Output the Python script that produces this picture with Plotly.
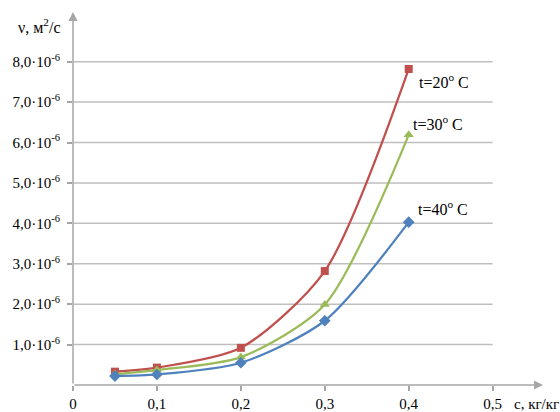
import plotly.graph_objects as go

# data (viscosity in units of 1e-6 m^2/s)
conc = [0.05, 0.1, 0.2, 0.3, 0.4]
t20 = [0.33, 0.43, 0.92, 2.82, 7.82]
t30 = [0.27, 0.37, 0.69, 1.99, 6.19]
t40 = [0.22, 0.26, 0.55, 1.59, 4.03]
series_names = ["t=20<sup>o</sup> C", "t=30<sup>o</sup> C", "t=40<sup>o</sup> C"]
x_ticks = [0, 0.1, 0.2, 0.3, 0.4, 0.5]
x_tick_text = ["0", "0,1", "0,2", "0,3", "0,4", "0,5"]
y_ticks = [1, 2, 3, 4, 5, 6, 7, 8]
y_tick_text = [f"{v},0·10<sup>-6</sup>" for v in y_ticks]

FONT = "Liberation Serif, Times New Roman, serif"
GRID = "#BFBFBF"
AX = "#A6A6A6"

fig = go.Figure()
styles = [
    (t20, "#C0504D", "square", 8),
    (t30, "#9BBB59", "triangle-up", 9),
    (t40, "#4F81BD", "diamond", 9),
]
for (vals, col, sym, ms), name in zip(styles, series_names):
    fig.add_trace(go.Scatter(
        x=conc, y=vals, mode="lines+markers", name=name,
        line=dict(color=col, width=2.25, shape="spline", smoothing=0.75),
        marker=dict(symbol=sym, size=ms, color=col),
        cliponaxis=False, showlegend=False,
    ))

# gridlines only up to x=0.5
for v in y_ticks:
    fig.add_shape(type="line", x0=0, x1=0.5, y0=v, y1=v, xref="x", yref="y",
                  line=dict(color=GRID, width=1.5), layer="below")

# axes with arrows
fig.add_annotation(x=0, y=9.23, ax=0, ay=0, xref="x", yref="y", axref="x", ayref="y",
                   text="", showarrow=True, arrowhead=2, arrowsize=1.2, arrowwidth=1.5,
                   arrowcolor=AX)
fig.add_annotation(x=0.56, y=0, ax=0, ay=0, xref="x", yref="y", axref="x", ayref="y",
                   text="", showarrow=True, arrowhead=2, arrowsize=1.2, arrowwidth=1.5,
                   arrowcolor=AX)

# series labels
label_pos = [(0.410, 7.52), (0.403, 6.49), (0.409, 4.38)]
for (lx, ly), name in zip(label_pos, series_names):
    fig.add_annotation(x=lx, y=ly, xref="x", yref="y", text=name, showarrow=False,
                       xanchor="left", yanchor="middle",
                       font=dict(family=FONT, size=16, color="black"))

# axis titles (paper coordinates)
fig.add_annotation(x=-0.072, y=0.962, xref="paper", yref="paper", text="ν, м<sup>2</sup>/с",
                   showarrow=False, xanchor="center", yanchor="middle",
                   font=dict(family=FONT, size=16, color="black"))
fig.add_annotation(x=0.934, y=-0.050, xref="paper", yref="paper", text="с, кг/кг",
                   showarrow=False, xanchor="left", yanchor="middle",
                   font=dict(family=FONT, size=15, color="black"))

fig.update_layout(
    width=560, height=412,
    margin=dict(l=73, r=17, t=12, b=27, autoexpand=False),
    plot_bgcolor="white", paper_bgcolor="white",
    font=dict(family=FONT, size=15, color="black"),
    xaxis=dict(range=[0, 0.56], tickvals=x_ticks, ticktext=x_tick_text,
               showgrid=False, zeroline=False, showline=False, automargin=False,
               ticks="outside", ticklen=5, tickcolor=AX, tickwidth=1.5,
               ticklabelstandoff=0, fixedrange=True),
    yaxis=dict(range=[0, 9.23], tickvals=y_ticks, ticktext=y_tick_text,
               showgrid=False, zeroline=False, showline=False, automargin=False,
               ticks="outside", ticklen=5, tickcolor=AX, tickwidth=1.5,
               ticklabelstandoff=4, fixedrange=True),
)

fig.write_html("out.html", config={"displayModeBar": False},
               post_script="document.body.style.margin='0';document.body.style.overflow='hidden';")
